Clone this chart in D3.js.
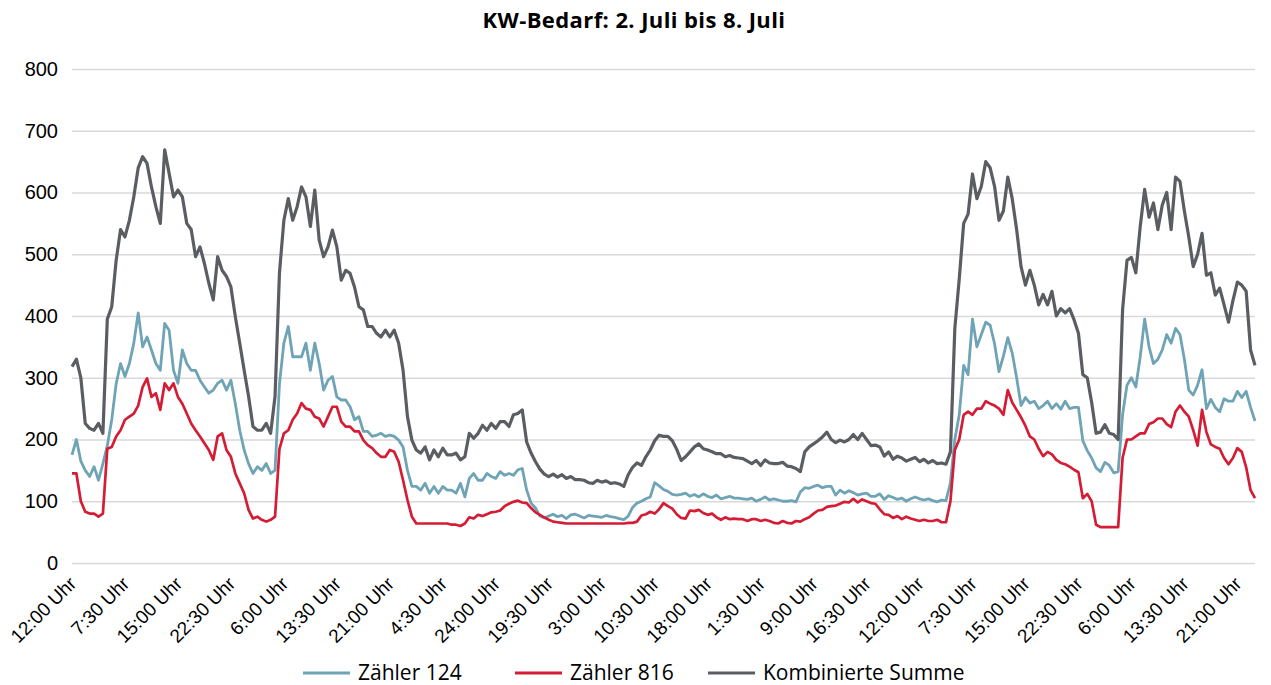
<!DOCTYPE html>
<html lang="de">
<head>
<meta charset="UTF-8" />
<title>KW-Bedarf</title>
<style>
  body { margin: 0; background: #fff; }
  svg { display: block; font-family: "Open Sans", "Noto Sans", sans-serif; }
</style>
</head>
<body>
<svg id="chart"></svg>
<script src="https://cdnjs.cloudflare.com/ajax/libs/d3/7.8.5/d3.min.js"></script>
<script>
// Beschriftung der x-Achse, jede 12. Messung
const tickLabels = [
  "12:00 Uhr", "7:30 Uhr", "15:00 Uhr", "22:30 Uhr", "6:00 Uhr", "13:30 Uhr",
  "21:00 Uhr", "4:30 Uhr", "24:00 Uhr", "19:30 Uhr", "3:00 Uhr", "10:30 Uhr",
  "18:00 Uhr", "1:30 Uhr", "9:00 Uhr", "16:30 Uhr", "12:00 Uhr", "7:30 Uhr",
  "15:00 Uhr", "22:30 Uhr", "6:00 Uhr", "13:30 Uhr", "21:00 Uhr"
];
const labelEvery = 12;

const yTicks = [0, 100, 200, 300, 400, 500, 600, 700, 800];

const zaehler124 = [
  175, 200, 165, 150, 140, 156, 134, 161, 190, 232, 290, 323, 302, 323, 356, 405, 350, 366, 345, 323,
  312, 388, 377, 312, 291, 345, 323, 312, 312, 296, 285, 275, 280, 291, 296, 280, 296, 258, 215, 183,
  161, 145, 156, 150, 161, 145, 150, 290, 356, 383, 334, 334, 334, 356, 312, 356, 323, 280, 296, 302,
  269, 264, 264, 253, 232, 237, 213, 213, 205, 207, 210, 205, 207, 205, 199, 188, 150, 124, 124, 118,
  129, 113, 124, 113, 124, 118, 118, 113, 129, 107, 137, 145, 134, 134, 145, 140, 137, 148, 142, 145,
  142, 151, 153, 118, 97, 89, 76, 73, 76, 79, 75, 77, 72, 78, 79, 76, 73, 77, 76, 75,
  74, 77, 75, 74, 72, 70, 76, 90, 97, 100, 104, 107, 130, 125, 119, 116, 111, 110, 111, 113,
  108, 111, 107, 112, 108, 106, 110, 104, 106, 108, 105, 105, 104, 103, 105, 100, 103, 107, 102, 104,
  102, 100, 100, 101, 99, 115, 122, 121, 124, 126, 122, 124, 124, 110, 118, 113, 117, 114, 110, 112,
  113, 108, 108, 112, 103, 109, 106, 103, 105, 100, 104, 107, 104, 102, 104, 101, 99, 102, 101, 130,
  200, 240, 320, 305, 395, 350, 370, 390, 385, 355, 310, 335, 365, 340, 300, 255, 268, 259, 262, 250,
  255, 262, 250, 258, 249, 262, 250, 252, 252, 198, 182, 170, 154, 148, 163, 158, 146, 148, 240, 288,
  300, 285, 334, 395, 350, 323, 330, 345, 370, 356, 380, 370, 330, 280, 272, 288, 313, 250, 265, 252,
  245, 266, 262, 262, 278, 268, 278, 252, 230
];

const zaehler816 = [
  145, 145, 100, 83, 80, 80, 75, 80, 185, 188, 205, 215, 232, 237, 242, 255, 285, 299, 269, 275,
  248, 291, 280, 291, 269, 258, 242, 226, 215, 205, 194, 183, 167, 205, 210, 183, 172, 145, 129, 113,
  86, 72, 75, 70, 67, 70, 75, 185, 210, 215, 232, 242, 259, 250, 248, 237, 234, 221, 237, 253,
  253, 229, 221, 221, 213, 213, 199, 191, 186, 178, 172, 172, 183, 180, 164, 134, 102, 75, 64, 64,
  64, 64, 64, 64, 64, 64, 62, 62, 60, 64, 74, 72, 78, 76, 79, 82, 83, 85, 92, 96,
  99, 101, 98, 97, 89, 82, 78, 74, 70, 67, 66, 65, 64, 64, 64, 64, 64, 64, 64, 64,
  64, 64, 64, 64, 64, 64, 65, 65, 67, 77, 79, 83, 80, 87, 97, 92, 88, 79, 73, 72,
  85, 84, 86, 81, 78, 80, 74, 70, 74, 71, 72, 71, 71, 68, 71, 71, 68, 70, 68, 65,
  64, 68, 65, 64, 68, 67, 71, 74, 80, 85, 86, 91, 92, 93, 96, 99, 98, 104, 98, 103,
  100, 97, 96, 87, 79, 78, 73, 76, 71, 75, 72, 70, 68, 70, 68, 68, 70, 66, 66, 100,
  183, 200, 240, 245, 240, 250, 250, 262, 258, 255, 250, 240, 280, 260, 248, 236, 222, 205, 200, 185,
  173, 180, 176, 167, 162, 160, 156, 151, 147, 105, 112, 100, 62, 58, 58, 58, 58, 58, 170, 200,
  200, 205, 210, 210, 225, 228, 234, 234, 225, 220, 245, 255, 245, 237, 215, 190, 248, 212, 192, 188,
  185, 170, 160, 170, 186, 180, 155, 118, 105
];

const summe = [
  318, 330, 300, 226, 218, 215, 226, 210, 395, 415, 490, 540, 528, 555, 593, 640, 658, 647, 609, 577,
  550, 669, 631, 593, 604, 593, 550, 540, 496, 512, 485, 453, 426, 496, 474, 464, 447, 399, 356, 312,
  270, 221, 215, 215, 226, 210, 270, 470, 555, 590, 555, 577, 609, 593, 545, 604, 523, 496, 512, 539,
  512, 458, 474, 469, 447, 415, 410, 383, 383, 372, 366, 377, 366, 377, 356, 312, 237, 199, 183, 178,
  188, 167, 183, 172, 186, 175, 175, 178, 167, 172, 210, 202, 210, 223, 215, 226, 218, 229, 229, 221,
  240, 242, 248, 196, 178, 164, 152, 144, 140, 144, 139, 143, 137, 140, 135, 135, 134, 130, 129, 134,
  131, 133, 129, 130, 128, 124, 143, 155, 162, 158, 172, 183, 198, 207, 205, 205, 198, 184, 166, 172,
  180, 188, 193, 185, 183, 180, 177, 177, 172, 174, 171, 170, 169, 165, 161, 166, 158, 167, 162, 161,
  161, 163, 157, 156, 153, 148, 180, 188, 193, 198, 204, 212, 200, 195, 199, 196, 200, 208, 200, 210,
  200, 190, 191, 188, 173, 180, 168, 173, 170, 165, 168, 171, 164, 168, 162, 166, 161, 162, 160, 180,
  380, 460, 550, 565, 630, 590, 610, 650, 640, 610, 555, 570, 625, 590, 540, 480, 450, 474, 450, 418,
  435, 418, 440, 400, 412, 405, 412, 394, 372, 305, 300, 260, 210, 212, 224, 210, 208, 200, 410, 490,
  495, 470, 545, 605, 560, 583, 540, 580, 600, 540, 625, 618, 570, 528, 480, 500, 534, 466, 470, 434,
  445, 418, 390, 425, 455, 450, 440, 345, 320
];

const series = [
  { name: "Zähler 124", values: zaehler124, color: "#6fa3b6", width: 2.8 },
  { name: "Zähler 816", values: zaehler816, color: "#d41c34", width: 2.7 },
  { name: "Kombinierte Summe", values: summe, color: "#5a5e63", width: 3.2 }
];

const width = 1271, height = 685;
const margin = { left: 72, right: 16, top: 69, bottom: 122 };

const svg = d3.select("#chart").attr("width", width).attr("height", height);

const x = d3.scalePoint()
  .domain(d3.range(summe.length))
  .range([margin.left, width - margin.right]);

const y = d3.scaleLinear()
  .domain([0, 800])
  .range([height - margin.bottom, margin.top]);

// Gitterlinien + y-Achse
const yAxis = d3.axisLeft(y)
  .tickValues(yTicks)
  .tickSize(-(width - margin.left - margin.right))
  .tickPadding(14)
  .tickFormat(d3.format("d"));

svg.append("g")
  .attr("class", "y-axis")
  .attr("transform", `translate(${margin.left},0)`)
  .call(yAxis)
  .call((g) => g.select(".domain").remove())
  .call((g) => g.selectAll("line").attr("stroke", "#d9d9d9").attr("stroke-width", 1.3))
  .call((g) => g.selectAll("text").attr("fill", "#000").style("font-size", "20px"));

// x-Achse, nur Beschriftung
const xAxis = d3.axisBottom(x)
  .tickValues(d3.range(0, summe.length, labelEvery))
  .tickFormat((d) => tickLabels[d / labelEvery])
  .tickSize(0);

svg.append("g")
  .attr("class", "x-axis")
  .attr("transform", `translate(0,${height - margin.bottom})`)
  .call(xAxis)
  .call((g) => g.select(".domain").remove())
  .call((g) => g.selectAll("text")
    .attr("fill", "#000")
    .style("font-size", "19px")
    .attr("text-anchor", "end")
    .attr("dy", null)
    .attr("y", 0)
    .attr("transform", "translate(5,22) rotate(-45)"));

// Linien
const line = d3.line()
  .x((d, i) => x(i))
  .y((d) => y(d));

svg.append("g")
  .selectAll("path")
  .data(series)
  .join("path")
  .attr("fill", "none")
  .attr("stroke", (s) => s.color)
  .attr("stroke-width", (s) => s.width)
  .attr("stroke-linejoin", "round")
  .attr("d", (s) => line(s.values));

// Titel
svg.append("text")
  .attr("x", 634)
  .attr("y", 28)
  .attr("text-anchor", "middle")
  .style("font-size", "22px")
  .style("font-weight", "bold")
  .style("letter-spacing", "0.4px")
  .text("KW-Bedarf: 2. Juli bis 8. Juli");

// Legende
const legendX = [303, 515, 708];
const legend = svg.append("g")
  .selectAll("g")
  .data(series)
  .join("g")
  .attr("transform", (s, i) => `translate(${legendX[i]},673)`);

legend.append("line")
  .attr("x1", 0).attr("x2", 47)
  .attr("stroke", (s) => s.color)
  .attr("stroke-width", 3);

legend.append("text")
  .attr("x", 55)
  .attr("dy", "0.35em")
  .style("font-size", "21px")
  .text((s) => s.name);
</script>
</body>
</html>
